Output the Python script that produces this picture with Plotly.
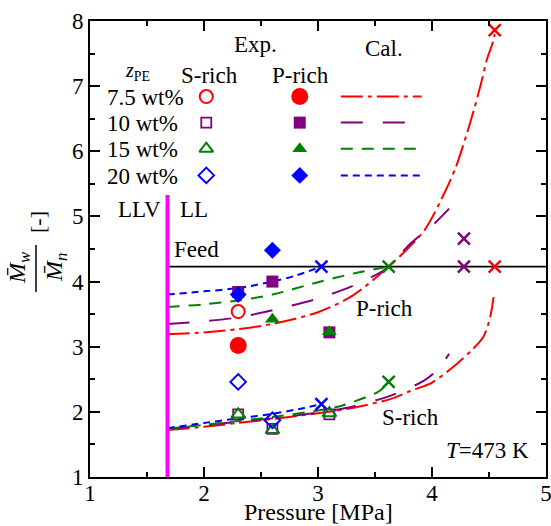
import plotly.graph_objects as go

FONT = "Liberation Serif, Times New Roman, Tinos, DejaVu Serif, serif"
RED, PURPLE, GREEN, BLUE, MAGENTA = "#ff0000", "#800080", "#008000", "#0000ff", "#ff00ff"

# ---------------- data ----------------
LLV_P = 1.68          # LLV / LL boundary pressure [MPa]
LLV_TOP = 5.33
FEED = 4.23           # feed Mw/Mn

x_ticks = [1, 2, 3, 4, 5]
y_ticks = [1, 2, 3, 4, 5, 6, 7, 8]

# Experimental, S-rich phase (open symbols)
s75_x = [2.3];            s75_y = [3.54]
s10_x = [2.3, 2.6, 3.1];  s10_y = [1.96, 1.74, 1.96]
s15_x = [2.3, 2.6, 3.1];  s15_y = [1.96, 1.72, 1.98]
s20_x = [2.3, 2.6];       s20_y = [2.46, 1.87]

# Experimental, P-rich phase (filled symbols)
p75_x = [2.3];            p75_y = [3.02]
p10_x = [2.3, 2.6, 3.1];  p10_y = [3.84, 4.00, 3.22]
p15_x = [2.6, 3.1];       p15_y = [3.42, 3.23]
p20_x = [2.3, 2.6];       p20_y = [3.80, 4.48]

# Calculated, P-rich branch
cp75_x = [1.68, 2.0, 2.3, 2.6, 3.0, 3.3, 3.62, 3.93, 4.12, 4.21, 4.34, 4.43, 4.48, 4.53, 4.55]
cp75_y = [3.19, 3.22, 3.27, 3.35, 3.53, 3.78, 4.23, 4.78, 5.40, 5.76, 6.47, 7.04, 7.40, 7.65, 7.80]
cp10_x = [1.68, 2.0, 2.3, 2.6, 3.0, 3.3, 3.6, 3.81, 4.02, 4.15]
cp10_y = [3.35, 3.39, 3.45, 3.56, 3.74, 3.93, 4.20, 4.58, 4.89, 5.12]
cp15_x = [1.68, 2.0, 2.3, 2.6, 3.0, 3.3, 3.62]
cp15_y = [3.61, 3.65, 3.71, 3.80, 3.99, 4.12, 4.23]
cp20_x = [1.68, 2.0, 2.3, 2.6, 2.8, 3.03]
cp20_y = [3.80, 3.85, 3.90, 4.00, 4.09, 4.23]

# Calculated, S-rich branch
cs75_x = [1.68, 2.0, 2.3, 2.6, 3.0, 3.3, 3.64, 3.81, 4.0, 4.22, 4.35, 4.45, 4.51, 4.54]
cs75_y = [1.72, 1.77, 1.83, 1.89, 1.98, 2.06, 2.20, 2.32, 2.45, 2.74, 2.95, 3.15, 3.45, 3.76]
cs10_x = [1.68, 2.0, 2.3, 2.6, 3.0, 3.3, 3.64, 3.93, 4.05, 4.15]
cs10_y = [1.74, 1.79, 1.85, 1.90, 1.99, 2.08, 2.25, 2.48, 2.65, 2.89]
cs15_x = [1.68, 2.0, 2.3, 2.6, 3.0, 3.2, 3.52, 3.58]
cs15_y = [1.74, 1.80, 1.86, 1.92, 2.02, 2.09, 2.30, 2.38]
cs20_x = [1.68, 2.0, 2.3, 2.6, 2.88, 3.03]
cs20_y = [1.75, 1.83, 1.90, 1.97, 2.06, 2.12]

# Calculated end points (crosses)
xr_x = [4.55, 4.55]; xr_y = [7.86, 4.23]
xp_x = [4.28, 4.28]; xp_y = [4.66, 4.23]
xg_x = [3.62, 3.62]; xg_y = [4.23, 2.46]
xb_x = [3.03, 3.03]; xb_y = [4.23, 2.12]

legend_labels = ["7.5 wt%", "10 wt%", "15 wt%", "20 wt%"]

# ---------------- layout constants ----------------
W, H = 551, 526
ML, MR, MT, MB = 90, 5, 21, 49
PW, PH = W - ML - MR, H - MT - MB

def px_x(p):
    return (p - ML) / PW

def px_y(p):
    return (H - MB - p) / PH

DASH = {RED: "22px,5px,4px,5px", PURPLE: "22px,20px", GREEN: "12px,9px", BLUE: "7px,5px"}
colors = [RED, PURPLE, GREEN, BLUE]
open_sym = [("circle-open", 13, 2), ("square-open", 10, 1.8), ("triangle-up-open", 12, 2), ("diamond-open", 12, 2)]
fill_sym = [("circle", 17), ("square", 12), ("triangle-up", 13), ("diamond", 13)]

fig = go.Figure()

def line(x, y, color, dash, width=2, shape="spline"):
    fig.add_trace(go.Scatter(x=x, y=y, mode="lines", showlegend=False, hoverinfo="skip",
                             line=dict(color=color, width=width, dash=dash, shape=shape, smoothing=0.8)))

# Feed line
line([LLV_P, 5], [FEED, FEED], "black", "solid", 1.8, "linear")

# calculated curves
for (x, y), c in zip([(cp75_x, cp75_y), (cp10_x, cp10_y), (cp15_x, cp15_y), (cp20_x, cp20_y)], colors):
    line(x, y, c, DASH[c])
for (x, y), c in zip([(cs75_x, cs75_y), (cs10_x, cs10_y), (cs15_x, cs15_y), (cs20_x, cs20_y)], colors):
    line(x, y, c, DASH[c])

# LLV boundary
line([LLV_P, LLV_P], [1, LLV_TOP], MAGENTA, "solid", 4, "linear")

def markers(x, y, sym, size, color, lw=2, filled=False):
    fig.add_trace(go.Scatter(x=x, y=y, mode="markers", showlegend=False, hoverinfo="skip",
                             cliponaxis=False,
                             marker=dict(symbol=sym, size=size, color=color,
                                         line=dict(color=color, width=lw if not filled else 0))))

# crosses
for (x, y), c in zip([(xr_x, xr_y), (xp_x, xp_y), (xg_x, xg_y), (xb_x, xb_y)], colors):
    markers(x, y, "x-thin", 12, c, 2.5)

# S-rich open symbols
for (x, y), c, (s, sz, lw) in zip([(s75_x, s75_y), (s10_x, s10_y), (s15_x, s15_y), (s20_x, s20_y)], colors, open_sym):
    markers(x, y, s, sz, c, lw)
# P-rich filled symbols (purple first so others sit on top)
order = [1, 0, 2, 3]
pdata = [(p75_x, p75_y), (p10_x, p10_y), (p15_x, p15_y), (p20_x, p20_y)]
for i in order:
    s, sz = fill_sym[i]
    markers(pdata[i][0], pdata[i][1], s, sz, colors[i], filled=True)

# ---------------- legend table drawn in data space ----------------
row_y = [6.84, 6.44, 6.04, 5.63]
col_s, col_p = 2.02, 2.84
cal_x0, cal_x1 = 3.20, 3.91
lab_x = 1.13

annotations = []
def text(x, y, t, size=23, xanchor="center", xref="x", yref="y", angle=0):
    annotations.append(dict(x=x, y=y, xref=xref, yref=yref, text=t, showarrow=False,
                            xanchor=xanchor, yanchor="middle", textangle=angle,
                            font=dict(family=FONT, size=size, color="black")))

for i, c in enumerate(colors):
    s, sz, lw = open_sym[i]
    markers([col_s], [row_y[i]], s, sz, c, lw)
    fs, fsz = fill_sym[i]
    markers([col_p], [row_y[i]], fs, fsz, c, filled=True)
    line([cal_x0, cal_x1], [row_y[i], row_y[i]], c, DASH[c], 2, "linear")
    text(lab_x, row_y[i] - 0.02, legend_labels[i], xanchor="left")

text(2.45, 7.64, "Exp.")
text(3.58, 7.58, "Cal.")
text(1.42, 7.22, "<i>z</i><sub>PE</sub>", size=20)
text(2.05, 7.17, "S-rich")
text(2.85, 7.17, "P-rich")
text(1.435, 5.10, "LLV")
text(1.91, 5.10, "LL")
text(1.93, 4.49, "Feed")
text(3.58, 3.59, "P-rich")
text(3.81, 1.92, "S-rich")
text(4.49, 1.41, "<i>T</i>=473 K")

# x-axis title
text(0.5, px_y(512), "Pressure [MPa]", size=24, xref="paper", yref="paper")

# y-axis title as a rotated fraction
text(px_x(19), px_y(268), "<i>M\u0304</i><sub><i>w</i></sub>", size=24, xref="paper", yref="paper", angle=-90)
text(px_x(56), px_y(268), "<i>M\u0304</i><sub><i>n</i></sub>", size=24, xref="paper", yref="paper", angle=-90)
text(px_x(37), px_y(222), "[-]", size=22, xref="paper", yref="paper", angle=-90)

shapes = [dict(type="line", xref="paper", yref="paper", x0=px_x(36), x1=px_x(36),
               y0=px_y(245), y1=px_y(292), line=dict(color="black", width=1.5))]

axis_common = dict(showline=True, linewidth=2, linecolor="black", mirror="allticks",
                   ticks="inside", ticklen=10, tickwidth=2, tickcolor="black",
                   showgrid=False, zeroline=False, automargin=False,
                   ticklabeloverflow="allow",
                   tickfont=dict(family=FONT, size=23, color="black"),
                   minor=dict(ticks="inside", ticklen=5, tickwidth=2, tickcolor="black", dtick=0.5, showgrid=False))

fig.update_layout(
    width=W, height=H, margin=dict(l=ML, r=MR, t=MT, b=MB, autoexpand=False),
    font=dict(family=FONT),
    paper_bgcolor="white", plot_bgcolor="white", showlegend=False,
    xaxis=dict(range=[1, 5], tickvals=x_ticks, ticktext=[str(v) for v in x_ticks],
               ticklabelstandoff=-6, **axis_common),
    yaxis=dict(range=[1, 8], tickvals=y_ticks, ticktext=[str(v) for v in y_ticks], **axis_common),
    annotations=annotations, shapes=shapes,
)

fig.write_html("out.html")
